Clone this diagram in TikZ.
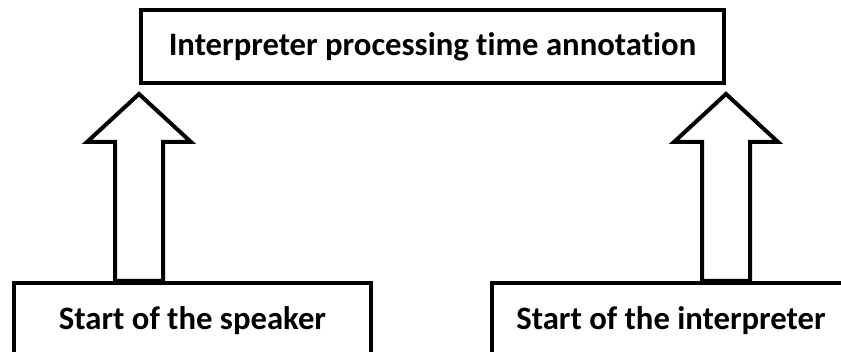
\documentclass[tikz,border=0pt]{standalone}
\usepackage{fontspec}
\setmainfont[Ligatures=NoCommon]{Carlito}
\usetikzlibrary{calc}
\tikzset{
  boxnode/.style={draw=black, line width=4pt, inner sep=0pt, font=\bfseries\fontsize{32.7}{38}\selectfont, text=black},
  hollow/.style={draw=black, fill=white, line width=4pt, line join=miter}
}
\begin{document}
\begin{tikzpicture}[x=1pt,y=-1pt]
\useasboundingbox (0,0) rectangle (841,352);
\clip (0,0) rectangle (841,352);
\fill[white] (0,0) rectangle (841,352);
\node[boxnode, minimum width=583pt, minimum height=73pt] (top) at (432.5,46.5) {Interpreter processing time annotation};
\node[boxnode, minimum width=357pt, minimum height=76pt] (spk) at (192.5,321) {Start of the speaker};
\node[boxnode, minimum width=358pt, minimum height=76pt] (int) at (671,321) {Start of the interpreter};
\coordinate (t1) at ($(top.south west)+(0,9)$);
\coordinate (t2) at ($(top.south east)+(0,9)$);
\draw[hollow] let \p1=(t1), \p2=(spk.north) in
  (\x1,\y1) -- (\x1+52pt,\y1-48pt) -- (\x1+24pt,\y1-48pt) -- (\x1+24pt,\y2)
  -- (\x1-24pt,\y2) -- (\x1-24pt,\y1-48pt) -- (\x1-52pt,\y1-48pt) -- cycle;
\draw[hollow] let \p1=(t2), \p2=(int.north) in
  (\x1,\y1) -- (\x1+52pt,\y1-48pt) -- (\x1+24pt,\y1-48pt) -- (\x1+24pt,\y2)
  -- (\x1-24pt,\y2) -- (\x1-24pt,\y1-48pt) -- (\x1-52pt,\y1-48pt) -- cycle;
\end{tikzpicture}
\end{document}
